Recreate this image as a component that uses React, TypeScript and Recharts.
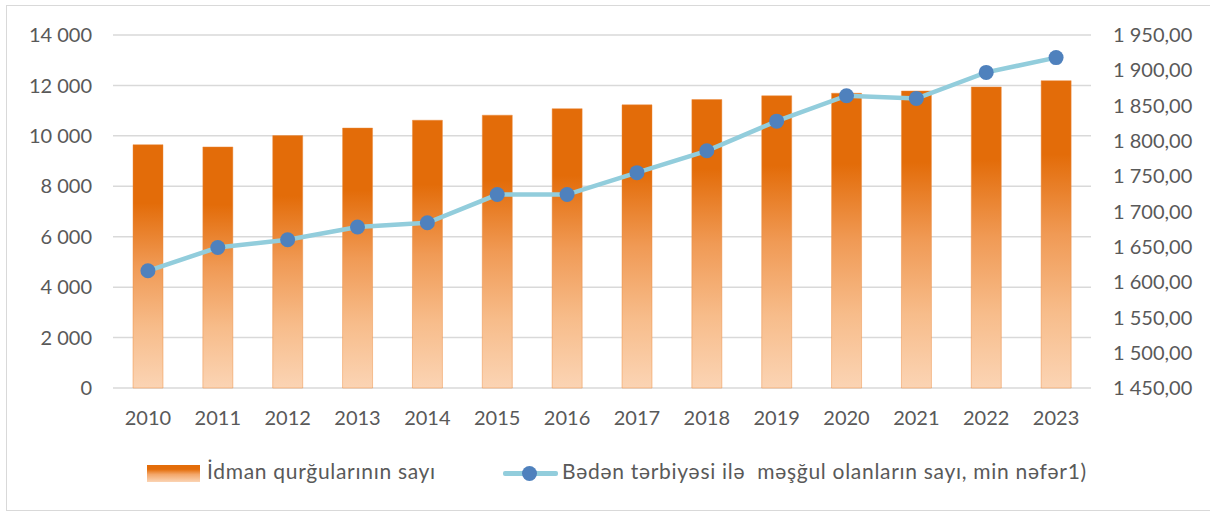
import React from 'react';
import { ComposedChart, Bar, Line, XAxis, YAxis, CartesianGrid, Legend } from 'recharts';

// İdman qurğuları və bədən tərbiyəsi ilə məşğul olanlar, 2010-2023
const years = ['2010', '2011', '2012', '2013', '2014', '2015', '2016', '2017', '2018', '2019', '2020', '2021', '2022', '2023'];
const facilities = [9650, 9560, 10010, 10310, 10620, 10820, 11080, 11230, 11440, 11590, 11690, 11780, 11940, 12190];
const participants = [1616, 1649, 1660, 1678, 1684, 1724, 1724, 1755, 1786, 1828, 1864, 1860, 1897, 1918];

const leftTicks = [0, 2000, 4000, 6000, 8000, 10000, 12000, 14000];
const rightTicks = [1450, 1500, 1550, 1600, 1650, 1700, 1750, 1800, 1850, 1900, 1950];

const barName = 'İdman qurğularının sayı';
const lineName = 'Bədən tərbiyəsi ilə  məşğul olanların sayı, min nəfər1)';

const data = years.map((y, i) => ({ year: y, facilities: facilities[i], participants: participants[i] }));

const FONT = 'Lato, "Open Sans", sans-serif';
const TEXT = '#595959';

// 14000 -> "14 000"
const groupThousands = (n: number) => String(Math.trunc(n)).replace(/\B(?=(\d{3})+(?!\d))/g, ' ');
const fmtLeft = (v: number) => groupThousands(v);
const fmtRight = (v: number) => groupThousands(v) + ',00';

const LegendContent = () => (
  <div style={{ position: 'relative', height: 36, fontFamily: FONT, fontSize: 21, letterSpacing: 0.7, color: TEXT }}>
    <div
      style={{
        position: 'absolute', left: 147, top: 10, width: 53, height: 17,
        background: 'linear-gradient(#E36C09 0%, #E36C09 25%, #F3A669 55%, #FBD4B4 100%)',
      }}
    />
    <span style={{ position: 'absolute', left: 207, top: 3, whiteSpace: 'pre' }}>{barName}</span>
    <div style={{ position: 'absolute', left: 503, top: 16, width: 55, height: 5, background: '#92CDDC', borderRadius: 2 }} />
    <div style={{ position: 'absolute', left: 522, top: 11, width: 15, height: 15, borderRadius: '50%', background: '#4F81BD' }} />
    <span style={{ position: 'absolute', left: 562, top: 3, whiteSpace: 'pre' }}>{lineName}</span>
  </div>
);

export default function App() {
  return (
    <div style={{ position: 'absolute', left: 0, top: 0, width: 1210, height: 511, background: '#fff' }}>
      <div
        style={{
          position: 'absolute', left: 6, top: 5, width: 1220, height: 504,
          border: '1px solid #D9D9D9', pointerEvents: 'none',
        }}
      />
      <ComposedChart
        width={1210}
        height={511}
        data={data}
        margin={{ top: 35, right: 0, left: 0, bottom: 47 }}
        style={{ fontFamily: FONT }}
      >
        <defs>
          <linearGradient id="barGrad" x1="0" y1="0" x2="0" y2="1">
            <stop offset="0%" stopColor="#E36C09" />
            <stop offset="24%" stopColor="#E36C09" />
            <stop offset="50%" stopColor="#F09A55" />
            <stop offset="75%" stopColor="#F7BC8A" />
            <stop offset="100%" stopColor="#FBD4B4" />
          </linearGradient>
        </defs>
        <CartesianGrid yAxisId="left" vertical={false} stroke="#D9D9D9" strokeWidth={1.5} />
        <XAxis
          dataKey="year"
          axisLine={false}
          tickLine={false}
          tickSize={0}
          tickMargin={23}
          height={40}
          tick={{ fill: TEXT, fontSize: 20 }}
          interval={0}
        />
        <YAxis
          yAxisId="left"
          domain={[0, 14000]}
          ticks={leftTicks}
          tickFormatter={fmtLeft}
          axisLine={false}
          tickLine={false}
          tickSize={0}
          tickMargin={21}
          width={113}
          tick={{ fill: TEXT, fontSize: 20 }}
        />
        <YAxis
          yAxisId="right"
          orientation="right"
          domain={[1450, 1950]}
          ticks={rightTicks}
          tickFormatter={fmtRight}
          axisLine={false}
          tickLine={false}
          tickSize={0}
          tickMargin={22}
          width={119}
          tick={{ fill: TEXT, fontSize: 20 }}
        />
        <Legend
          verticalAlign="bottom"
          content={<LegendContent />}
          wrapperStyle={{ left: 0, bottom: 20, width: 1210, height: 36 }}
        />
        <Bar
          yAxisId="left"
          dataKey="facilities"
          name={barName}
          barSize={30}
          fill="url(#barGrad)"
          stroke="#EB8A3C"
          strokeOpacity={0.45}
          isAnimationActive={false}
        />
        <Line
          yAxisId="right"
          dataKey="participants"
          name={lineName}
          stroke="#92CDDC"
          strokeWidth={4.5}
          dot={{ r: 7.5, fill: '#4F81BD', stroke: '#4F81BD', strokeWidth: 0 }}
          isAnimationActive={false}
        />
      </ComposedChart>
    </div>
  );
}
